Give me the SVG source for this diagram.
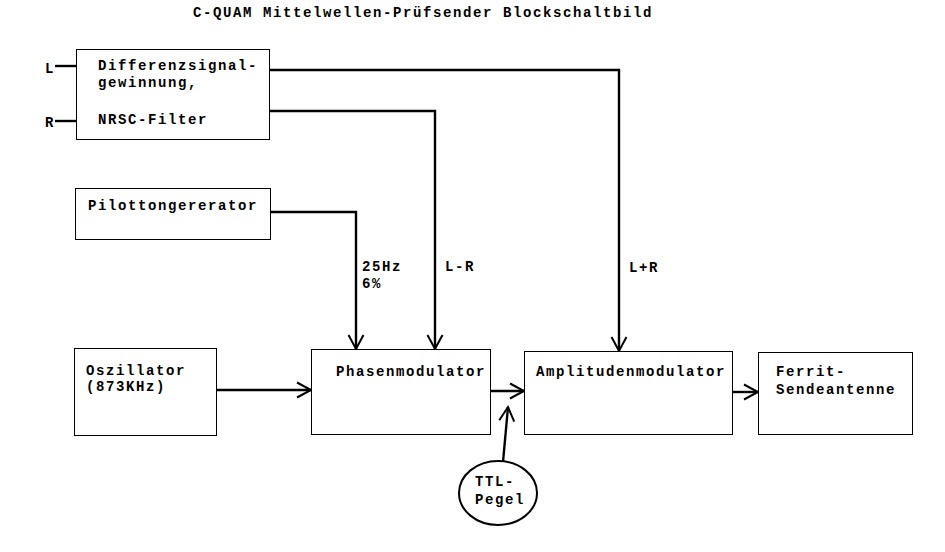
<svg xmlns="http://www.w3.org/2000/svg" width="945" height="552" viewBox="0 0 945 552">
<style>
text{font-family:"Liberation Mono","Courier New",monospace;font-weight:bold;font-size:14px;letter-spacing:1.6px;fill:#000}
.box{fill:#fff;stroke:#000;stroke-width:1}
.c{fill:none;stroke:#000;stroke-width:2.4}
</style>
<defs>
<marker id="ah" markerUnits="userSpaceOnUse" markerWidth="30" markerHeight="30" viewBox="-20 -15 30 30" refX="0" refY="0" orient="auto" overflow="visible">
<path d="M-14,-7.5 L0,0 L-14,7.5" fill="none" stroke="#000" stroke-width="2"/>
</marker>
</defs>
<rect width="945" height="552" fill="#fff"/>
<text x="193" y="17">C-QUAM Mittelwellen-Prüfsender Blockschaltbild</text>
<g id="connectors">
<path class="c" d="M55,66 H76"/>
<path class="c" d="M55,121 H76"/>
<path class="c" d="M269,70 H619 V351" marker-end="url(#ah)"/>
<path class="c" d="M269,111 H435 V349" marker-end="url(#ah)"/>
<path class="c" d="M271,212 H356 V349" marker-end="url(#ah)"/>
<path class="c" d="M216,390 H311" marker-end="url(#ah)"/>
<path class="c" d="M491,391 H524" marker-end="url(#ah)"/>
<path class="c" d="M732,392 H758" marker-end="url(#ah)"/>
<path class="c" d="M503,462 L508,407" marker-end="url(#ah)"/>
<text x="362" y="271">25Hz</text>
<text x="362" y="288">6%</text>
<text x="445" y="271">L-R</text>
<text x="629" y="272">L+R</text>
</g>
<g id="inputs">
<text x="45" y="73">L</text>
<text x="45" y="127">R</text>
</g>
<g id="differenz">
<rect class="box" x="76.5" y="49.5" width="193" height="90"/>
<text x="98" y="70">Differenzsignal-</text>
<text x="98" y="87">gewinnung,</text>
<text x="98" y="124">NRSC-Filter</text>
</g>
<g id="pilot">
<rect class="box" x="75.5" y="188.5" width="195" height="51"/>
<text x="88" y="210">Pilottongererator</text>
</g>
<g id="oszillator">
<rect class="box" x="74.5" y="348.5" width="142" height="87"/>
<text x="86" y="375">Oszillator</text>
<text x="86" y="391">(873KHz)</text>
</g>
<g id="phasenmodulator">
<rect class="box" x="311.5" y="349.5" width="179" height="85"/>
<text x="336" y="376">Phasenmodulator</text>
</g>
<g id="amplitudenmodulator">
<rect class="box" x="524.5" y="351.5" width="208" height="83"/>
<text x="536" y="376">Amplitudenmodulator</text>
</g>
<g id="ferrit">
<rect class="box" x="758.5" y="352.5" width="154" height="82"/>
<text x="776" y="376">Ferrit-</text>
<text x="776" y="394">Sendeantenne</text>
</g>
<g id="ttl">
<ellipse cx="498" cy="493" rx="39" ry="32" fill="#fff" stroke="#000" stroke-width="2"/>
<text x="475" y="486">TTL-</text>
<text x="475" y="504">Pegel</text>
</g>
</svg>
